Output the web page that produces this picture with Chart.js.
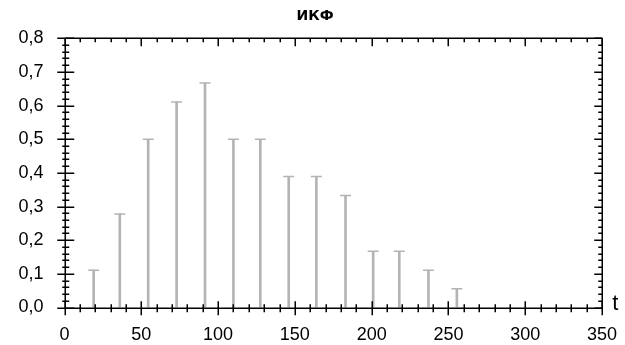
<!DOCTYPE html>
<html><head><meta charset="utf-8">
<script src="https://cdn.jsdelivr.net/npm/chart.js@4"></script>
<style>html,body{margin:0;padding:0;background:#fff}canvas{display:block}</style>
</head><body>
<canvas id="c" width="625" height="345"></canvas>
<script>
const chartTitle = 'ИКФ';
const xAxisLabel = 't';
const timeValues = [19, 36, 54.5, 73, 91.5, 110, 127.5, 146, 164, 183, 201, 218, 237, 255.5];
const ikfValues = [0.111, 0.278, 0.5, 0.611, 0.667, 0.5, 0.5, 0.389, 0.389, 0.333, 0.167, 0.167, 0.111, 0.056];
const xTickValues = [0, 50, 100, 150, 200, 250, 300, 350];
const yTickValues = [0.0, 0.1, 0.2, 0.3, 0.4, 0.5, 0.6, 0.7, 0.8];
const xMinorStep = 10;
const yMinorStep = 0.02;

const barColor = '#b4b4b4';
const points = timeValues.map((t, i) => ({ x: t, y: ikfValues[i] }));

const framePlugin = {
  id: 'frame',
  afterDraw(chart) {
    const { ctx, chartArea, scales } = chart;
    const xs = scales.x, ys = scales.y;
    const L = Math.round(chartArea.left) + 0.25, R = Math.round(chartArea.right) + 0.25;
    const T = Math.round(chartArea.top) + 0.25, B = Math.round(chartArea.bottom) + 0.25;
    ctx.save();
    ctx.strokeStyle = '#000';
    const seg = (x1, y1, x2, y2, w) => {
      ctx.lineWidth = w; ctx.beginPath(); ctx.moveTo(x1, y1); ctx.lineTo(x2, y2); ctx.stroke();
    };
    const W = 1.5;
    // frame
    seg(L, T, R, T, W);
    seg(L, B, R, B, W);
    seg(L, T, L, B, W);
    seg(R, T, R, B, W);
    // y ticks
    const yMax = yTickValues[yTickValues.length - 1];
    for (let k = 0; k * yMinorStep <= yMax + 1e-9; k++) {
      const v = k * yMinorStep;
      const major = k % 5 === 0;
      const py = Math.round(ys.getPixelForValue(v)) + 0.25;
      if (major) { seg(L - 8, py, L + 9, py, W); seg(R - 8, py, R, py, W); }
      else { seg(L - 3, py, L + 4, py, W); seg(R - 4, py, R, py, W); }
    }
    // x ticks
    const xMax = xTickValues[xTickValues.length - 1];
    for (let k = 0; k * xMinorStep <= xMax + 1e-9; k++) {
      const v = k * xMinorStep;
      const major = k % 5 === 0;
      const px = Math.round(xs.getPixelForValue(v)) + 0.25;
      if (major) { seg(px, B - 7, px, B + 7, W); seg(px, T, px, T + 8, W); }
      else { seg(px, B - 4, px, B + 4, W); seg(px, T, px, T + 4, W); }
    }
    // axis label t
    ctx.fillStyle = '#000';
    ctx.font = '22px "Liberation Sans", Arial, sans-serif';
    ctx.textAlign = 'left';
    ctx.textBaseline = 'alphabetic';
    ctx.fillText(xAxisLabel, R + 10, B + 2);
    ctx.restore();
  }
};

new Chart(document.getElementById('c'), {
  type: 'bar',
  data: {
    datasets: [
      {
        type: 'bar',
        data: points,
        backgroundColor: barColor,
        borderWidth: 0,
        barThickness: 2,
        order: 2
      },
      {
        type: 'scatter',
        data: points,
        showLine: false,
        pointStyle: 'line',
        pointRadius: 5.5,
        pointHoverRadius: 5.5,
        borderColor: barColor,
        pointBorderColor: barColor,
        pointBorderWidth: 1.5,
        order: 1
      }
    ]
  },
  options: {
    responsive: false,
    animation: false,
    events: [],
    layout: { padding: { left: 5, right: 0, top: 0, bottom: 0 } },
    plugins: {
      legend: { display: false },
      tooltip: { enabled: false },
      title: {
        display: true,
        text: chartTitle,
        color: '#000',
        font: { family: '"DejaVu Sans", sans-serif', size: 14, weight: 'bold', lineHeight: 1.2 },
        padding: { top: 8.3, bottom: 13.2 }
      }
    },
    scales: {
      x: {
        type: 'linear',
        offset: false,
        min: 0,
        max: 350,
        grid: { display: false, drawTicks: false, offset: false },
        border: { display: false },
        afterBuildTicks: s => { s.ticks = xTickValues.map(v => ({ value: v })); },
        afterFit: s => { s.height = 37.5; s.paddingLeft = 0; s.paddingRight = 0; },
        ticks: {
          autoSkip: false, maxRotation: 0, padding: 17, color: '#000',
          font: { family: '"Liberation Sans", Arial, sans-serif', size: 18 },
          callback: v => String(v)
        }
      },
      y: {
        type: 'linear',
        position: 'left',
        min: 0,
        max: 0.8,
        grid: { display: false, drawTicks: false },
        border: { display: false },
        afterBuildTicks: s => { s.ticks = yTickValues.map(v => ({ value: v })); },
        afterFit: s => { s.width = 59.5; s.paddingTop = 0; s.paddingBottom = 0; },
        ticks: {
          padding: 21, color: '#000',
          font: { family: '"Liberation Sans", Arial, sans-serif', size: 18 },
          callback: v => Number(v).toFixed(1).replace('.', ',')
        }
      },
      yRight: {
        type: 'linear',
        position: 'right',
        min: 0,
        max: 0.8,
        grid: { display: false, drawTicks: false },
        border: { display: false },
        ticks: { display: false },
        afterFit: s => { s.width = 23; s.paddingTop = 0; s.paddingBottom = 0; }
      }
    }
  },
  plugins: [framePlugin]
});
</script>
</body></html>
